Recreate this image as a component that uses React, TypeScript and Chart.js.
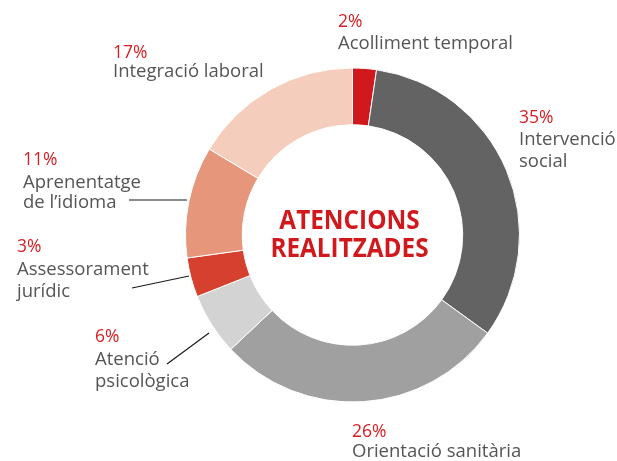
import React, { useEffect, useRef } from "react";
import { Chart, registerables } from "chart.js";

Chart.register(...registerables);

const categories = [
  "Acolliment temporal",
  "Intervenció social",
  "Orientació sanitària",
  "Atenció psicològica",
  "Assessorament jurídic",
  "Aprenentatge de l’idioma",
  "Integració laboral",
];
// printed percentages
const percentLabels = [2, 35, 26, 6, 3, 11, 17];
// slice sizes as drawn in the picture (%)
const arcShares = [2.3, 32.7, 28.0, 6.0, 3.8, 10.8, 16.4];
const colors = ["#d0181d", "#636363", "#a0a0a0", "#d3d3d3", "#d5412e", "#e6967a", "#f5cdbd"];
const labelLines = [
  ["Acolliment temporal"],
  ["Intervenció", "social"],
  ["Orientació sanitària"],
  ["Atenció", "psicològica"],
  ["Assessorament", "jurídic"],
  ["Aprenentatge", "de l’idioma"],
  ["Integració laboral"],
];
const centerTitle = ["ATENCIONS", "REALITZADES"];

// layout of annotation text: [x, baseline of %, baselines of lines...]
const labelLayout = [
  { x: 338, y: [27, 49] },
  { x: 519, y: [123, 145, 167] },
  { x: 352, y: [437, 457] },
  { x: 95, y: [342, 365, 387] },
  { x: 17, y: [252, 275, 297] },
  { x: 23, y: [165, 188, 208] },
  { x: 113, y: [58, 77] },
];
const leaders: (number[] | null)[] = [
  null,
  null,
  null,
  [167, 364, 209, 333],
  [132, 288, 189, 276],
  [129, 200, 187, 200],
  null,
];

const labelPlugin = {
  id: "labels",
  afterDraw(chart: any) {
    const ctx = chart.ctx;
    ctx.save();
    ctx.strokeStyle = "#1a1a1a";
    ctx.lineWidth = 1.2;
    leaders.forEach((l) => {
      if (!l) return;
      ctx.beginPath();
      ctx.moveTo(l[0], l[1]);
      ctx.lineTo(l[2], l[3]);
      ctx.stroke();
    });
    ctx.textAlign = "left";
    ctx.textBaseline = "alphabetic";
    percentLabels.forEach((v, i) => {
      const lay = labelLayout[i];
      ctx.font = "17.5px 'Open Sans'";
      ctx.fillStyle = "#d41f24";
      ctx.fillText(v + "%", lay.x, lay.y[0]);
      ctx.font = "18.5px 'Open Sans'";
      ctx.fillStyle = "#555555";
      labelLines[i].forEach((t, j) => {
        ctx.fillText(t, lay.x, lay.y[j + 1]);
      });
    });
    const meta = chart.getDatasetMeta(0);
    const arc = meta.data[0];
    const cx = arc.x - 3;
    const cy = arc.y;
    ctx.textAlign = "center";
    ctx.fillStyle = "#d0181d";
    ctx.font = "bold 26px 'Open Sans'";
    const sx = 0.935;
    ctx.translate(cx, cy);
    ctx.scale(sx, 1);
    ctx.fillText(centerTitle[0], 0, -6.5);
    ctx.fillText(centerTitle[1], 0, 22);
    ctx.restore();
  },
};

export default function App() {
  const ref = useRef<HTMLCanvasElement>(null);
  useEffect(() => {
    const chart = new Chart(ref.current!, {
      type: "doughnut",
      data: {
        labels: categories,
        datasets: [
          {
            data: arcShares,
            backgroundColor: colors,
            borderColor: "#ffffff",
            borderWidth: 1,
          },
        ],
      },
      options: {
        animation: false,
        responsive: false,
        cutout: "66%",
        layout: { padding: { top: 67, bottom: 58, left: 185, right: 97 } },
        plugins: { legend: { display: false }, tooltip: { enabled: false } },
      },
      plugins: [labelPlugin],
    });
    return () => chart.destroy();
  }, []);
  return (
    <div style={{ position: "fixed", left: 0, top: 0, width: 617, height: 461, background: "#fff" }}>
      <canvas ref={ref} width={617} height={461} />
    </div>
  );
}
